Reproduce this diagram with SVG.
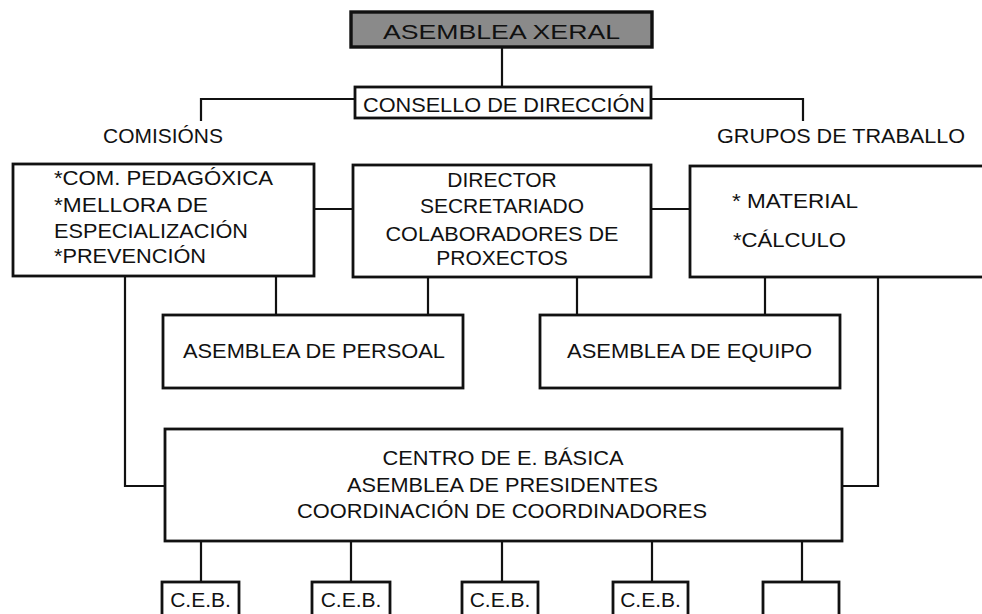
<svg xmlns="http://www.w3.org/2000/svg" width="982" height="614" viewBox="0 0 982 614">
<style>
.box{fill:#fff;stroke:#111;stroke-width:2.8}
.conn{fill:none;stroke:#111;stroke-width:2.2}
text{font-family:"Liberation Sans",Arial,sans-serif;font-size:21px;fill:#111}
.c{text-anchor:middle}
</style>
<rect width="982" height="614" fill="#fff"/>
<g id="connectors">
<path class="conn" d="M502 47 V87"/>
<path class="conn" d="M355 99 H201 V121"/>
<path class="conn" d="M651 99 H803 V121"/>
<path class="conn" d="M314 209 H353"/>
<path class="conn" d="M651 209 H690"/>
<path class="conn" d="M125 276 V486 H165"/>
<path class="conn" d="M276 276 V315"/>
<path class="conn" d="M428 277 V315"/>
<path class="conn" d="M577 277 V315"/>
<path class="conn" d="M765 277 V315"/>
<path class="conn" d="M878 277 V486 H842"/>
<path class="conn" d="M201 541 V582 M351 541 V582 M502 541 V582 M652 541 V582 M802 541 V582"/>
</g>
<g id="asemblea-xeral">
<rect x="351" y="12" width="301" height="35" fill="#8a8a8a" stroke="#111" stroke-width="3.4"/>
<text x="501.5" y="38.5" class="c" font-size="26" textLength="237" lengthAdjust="spacingAndGlyphs">ASEMBLEA XERAL</text>
</g>
<g id="consello">
<rect class="box" x="355" y="87" width="296" height="31"/>
<text x="504" y="112" class="c" textLength="282" lengthAdjust="spacingAndGlyphs">CONSELLO DE DIRECCIÓN</text>
</g>
<g id="comisions-label">
<text x="103" y="143" textLength="120" lengthAdjust="spacingAndGlyphs">COMISIÓNS</text>
</g>
<g id="grupos-label">
<text x="717" y="143" textLength="248" lengthAdjust="spacingAndGlyphs">GRUPOS DE TRABALLO</text>
</g>
<g id="comisions">
<rect class="box" x="13" y="164" width="301" height="112"/>
<text x="54" y="185" textLength="219" lengthAdjust="spacingAndGlyphs">*COM. PEDAGÓXICA</text>
<text x="54" y="212" textLength="154" lengthAdjust="spacingAndGlyphs">*MELLORA DE</text>
<text x="54" y="238" textLength="194" lengthAdjust="spacingAndGlyphs">ESPECIALIZACIÓN</text>
<text x="54" y="263" textLength="152" lengthAdjust="spacingAndGlyphs">*PREVENCIÓN</text>
</g>
<g id="direccion">
<rect class="box" x="353" y="165" width="298" height="112"/>
<text x="502" y="187" class="c">DIRECTOR</text>
<text x="502" y="213" class="c">SECRETARIADO</text>
<text x="502" y="241" class="c" textLength="233" lengthAdjust="spacingAndGlyphs">COLABORADORES DE</text>
<text x="502" y="265" class="c">PROXECTOS</text>
</g>
<g id="grupos">
<rect class="box" x="690" y="166" width="300" height="111"/>
<text x="732" y="208" textLength="126" lengthAdjust="spacingAndGlyphs">* MATERIAL</text>
<text x="733" y="247" textLength="113" lengthAdjust="spacingAndGlyphs">*CÁLCULO</text>
</g>
<g id="asemblea-persoal">
<rect class="box" x="163" y="315" width="300" height="73"/>
<text x="314" y="358" class="c" textLength="262" lengthAdjust="spacingAndGlyphs">ASEMBLEA DE PERSOAL</text>
</g>
<g id="asemblea-equipo">
<rect class="box" x="540" y="315" width="300" height="73"/>
<text x="689.5" y="358" class="c" textLength="245" lengthAdjust="spacingAndGlyphs">ASEMBLEA DE EQUIPO</text>
</g>
<g id="centro">
<rect class="box" x="165" y="429" width="677" height="112"/>
<text x="503" y="465" class="c" textLength="241" lengthAdjust="spacingAndGlyphs">CENTRO DE E. BÁSICA</text>
<text x="502.5" y="492" class="c" textLength="311" lengthAdjust="spacingAndGlyphs">ASEMBLEA DE PRESIDENTES</text>
<text x="502" y="518" class="c" textLength="410" lengthAdjust="spacingAndGlyphs">COORDINACIÓN DE COORDINADORES</text>
</g>
<g id="ceb1"><rect class="box" x="162" y="582" width="77" height="50"/><text x="200.5" y="607" class="c">C.E.B.</text></g>
<g id="ceb2"><rect class="box" x="312" y="582" width="78" height="50"/><text x="351" y="607" class="c">C.E.B.</text></g>
<g id="ceb3"><rect class="box" x="462" y="582" width="76" height="50"/><text x="500" y="607" class="c">C.E.B.</text></g>
<g id="ceb4"><rect class="box" x="613" y="582" width="75" height="50"/><text x="650.5" y="607" class="c">C.E.B.</text></g>
<g id="ceb5"><rect class="box" x="763" y="582" width="76" height="50"/></g>
</svg>
